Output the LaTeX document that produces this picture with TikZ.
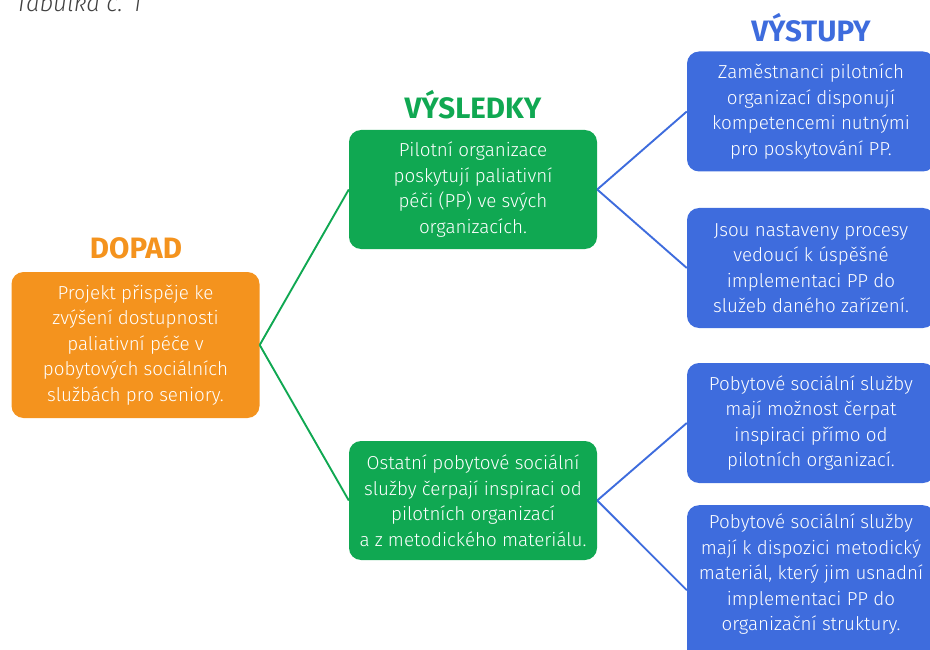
\documentclass[tikz,border=0pt]{standalone}
\usepackage{fontspec}
\setmainfont{Fira Sans}[UprightFont={* Light}, ItalicFont={* Light Italic}, BoldFont={* Bold}]
\usepackage{xcolor}
\usepackage{tikz}

\definecolor{dopadorange}{HTML}{F4931E}
\definecolor{vysgreen}{HTML}{10A852}
\definecolor{vystblue}{HTML}{3E6CDD}

\tikzset{
  box/.style={rounded corners=12pt, text=white, align=center,
    minimum width=248pt, inner sep=0pt,
    font=\fontsize{18.8}{25.5}\selectfont},
  dopadbox/.style={box, fill=dopadorange, minimum height=146pt},
  vysbox/.style={box, fill=vysgreen, minimum height=119pt},
  vystbox/.style={box, fill=vystblue, minimum height=120pt},
  head/.style={font=\fontsize{29.5}{32}\selectfont\bfseries},
  link/.style={line width=1.9pt}
}

\begin{document}
\begin{tikzpicture}[x=1pt,y=-1pt]
  \useasboundingbox (0,0) rectangle (930,650);
  \node[anchor=base west, text=black!75, font=\fontsize{24}{26}\selectfont\itshape] (tab) at (12,11.5) {Tabulka č. 1};

  % headings
  \node[head, text=dopadorange] (hdopad) at (136,248) {DOPAD};
  \node[head, text=vysgreen] (hvys) at (473,105) {VÝSLEDKY};
  \node[head, text=vystblue] (hvyst) at (811,28) {VÝSTUPY};

  % boxes
  \node[dopadbox] (dopad) at (135.5,345) {Projekt přispěje ke\\zvýšení dostupnosti\\paliativní péče v\\pobytových sociálních\\službách pro seniory.};
  \node[vysbox] (vys1) at (473,189.5) {Pilotní organizace\\poskytují paliativní\\péči (PP) ve svých\\organizacích.};
  \node[vysbox] (vys2) at (473,500.5) {Ostatní pobytové sociální\\služby čerpají inspiraci od\\pilotních organizací\\a z metodického materiálu.};
  \node[vystbox] (vyst1) at (811,111.5) {Zaměstnanci pilotních\\organizací disponují\\kompetencemi nutnými\\pro poskytování PP.};
  \node[vystbox] (vyst2) at (811,268) {Jsou nastaveny procesy\\vedoucí k úspěšné\\implementaci PP do\\služeb daného zařízení.};
  \node[vystbox] (vyst3) at (811,423) {Pobytové sociální služby\\mají možnost čerpat\\inspiraci přímo od\\pilotních organizací.};
  \node[vystbox, minimum height=170pt, anchor=north] (vyst4) at (811,505) {};
  \node[box, anchor=north] (vyst4txt) at (811,514) {Pobytové sociální služby\\mají k dispozici metodický\\materiál, který jim usnadní\\implementaci PP do\\organizační struktury.};

  % connectors
  \draw[link, vysgreen] (dopad.east) -- (vys1.west);
  \draw[link, vysgreen] (dopad.east) -- (vys2.west);
  \draw[link, vystblue] (vys1.east) -- (vyst1.west);
  \draw[link, vystblue] (vys1.east) -- (vyst2.west);
  \draw[link, vystblue] (vys2.east) -- (vyst3.west);
  \draw[link, vystblue] (vys2.east) -- (vyst4.west);
\end{tikzpicture}
\end{document}
